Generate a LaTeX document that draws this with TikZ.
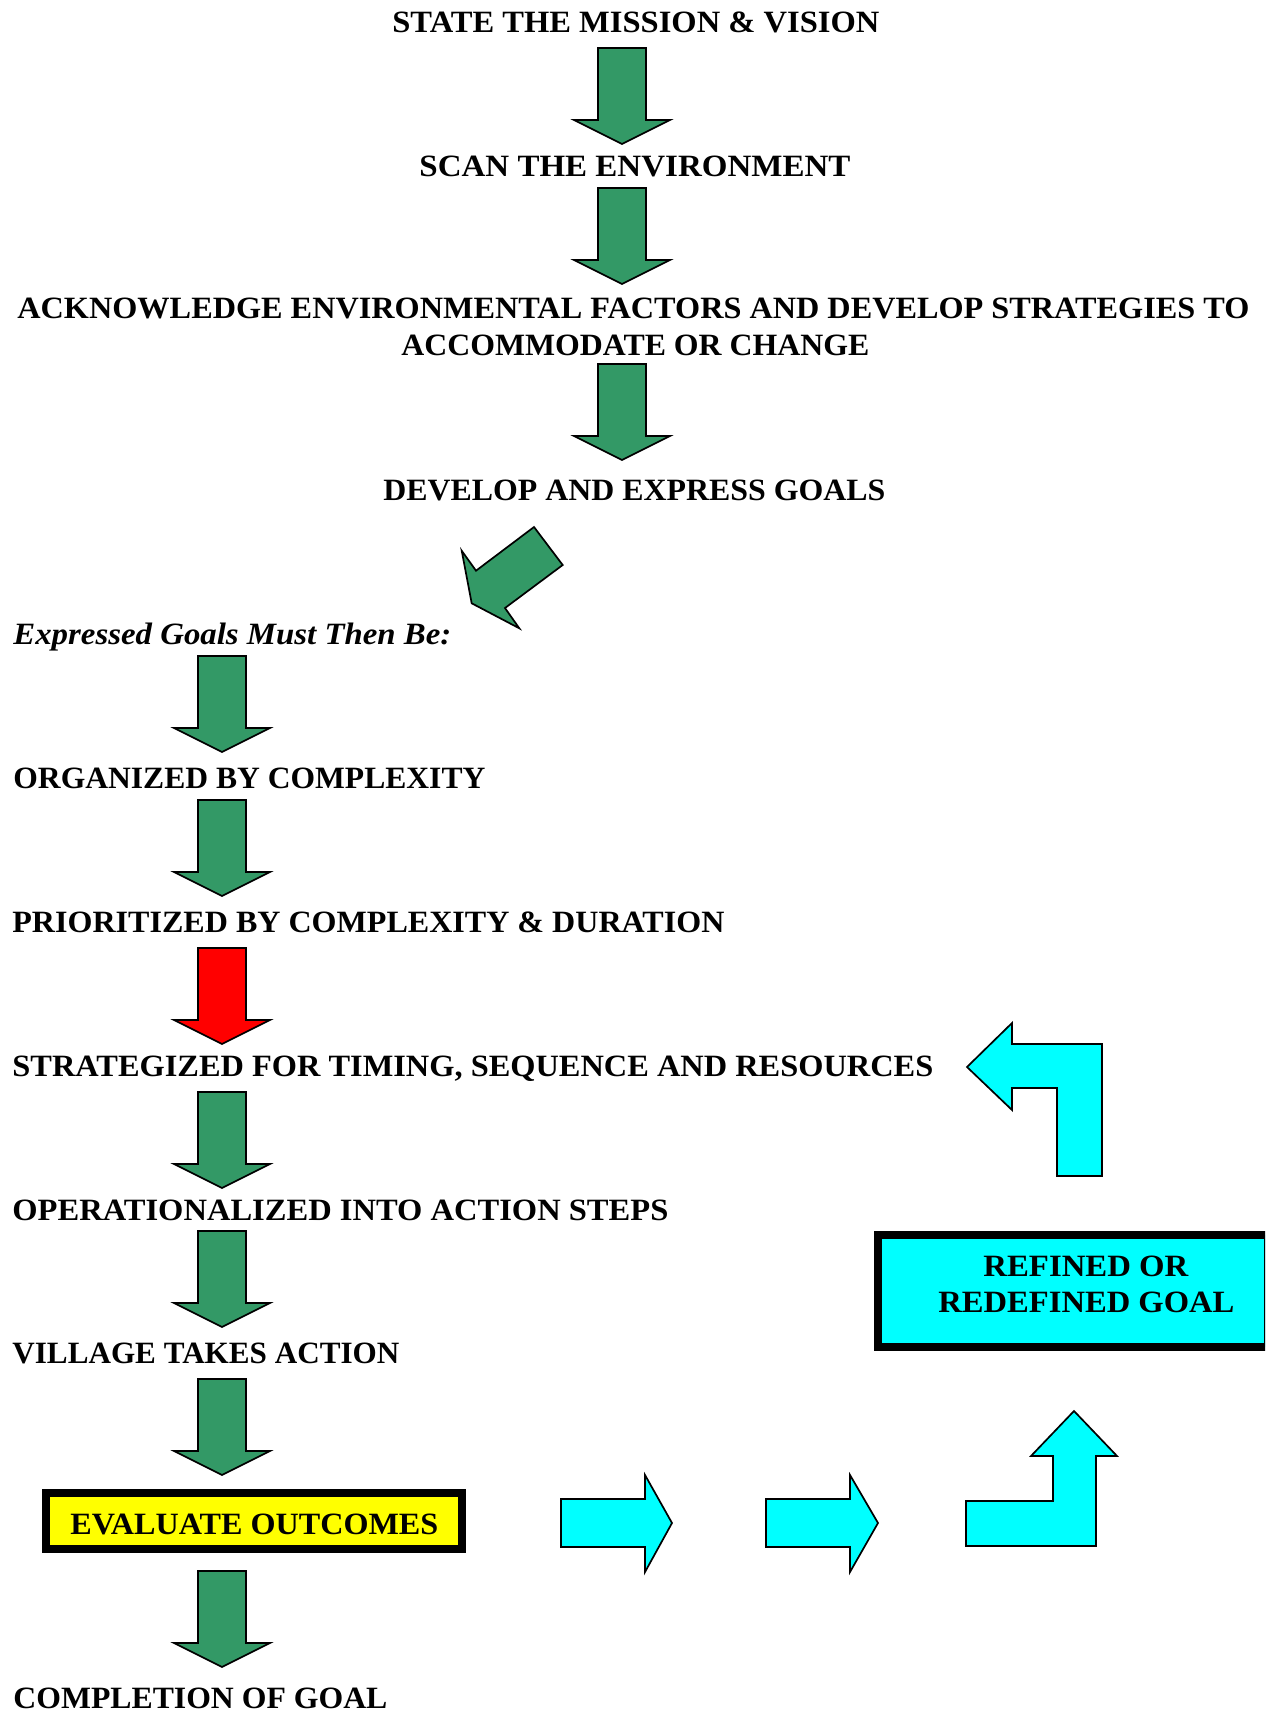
\documentclass[tikz,border=0pt]{standalone}
\usepackage{fontspec}
\setmainfont{Liberation Serif}
\usepackage{graphicx}
\newlength\pxu
\setlength\pxu{0.5pt}
\newcommand\fitt[2]{\resizebox{#1\pxu}{\height}{#2}}
\definecolor{sgreen}{RGB}{51,153,102}
\definecolor{cyanfill}{RGB}{0,255,255}
\definecolor{redfill}{RGB}{255,0,0}
\definecolor{yelfill}{RGB}{255,255,0}
\tikzset{
  lbl/.style={anchor=base west,inner sep=0pt,font=\fontsize{15.5}{18}\selectfont\bfseries},
  blk/.style={draw=black,line width=0.85pt,line join=miter},
  thickbox/.style={draw=black,line width=4pt,inner sep=0pt}
}
% down block arrow: #1 centre x, #2 top y, #3 fill colour
\newcommand\downarr[3]{%
  \draw[blk,fill=#3] (#1-24,#2) -- (#1+24,#2) -- (#1+24,#2+72) -- (#1+48,#2+72)
    -- (#1,#2+96) -- (#1-48,#2+72) -- (#1-24,#2+72) -- cycle;}
\begin{document}
\begin{tikzpicture}[x=0.5pt,y=-0.5pt]
\useasboundingbox (0,0) rectangle (1265,1709);
\clip (0,0) rectangle (1265,1709);

% texts
\node[lbl] (t1) at (392,32) {\fitt{487}{STATE THE MISSION \& VISION}};
\node[lbl] (t2) at (419,176) {\fitt{431}{SCAN THE ENVIRONMENT}};
\node[lbl] (t3a) at (17,318) {\fitt{1232}{ACKNOWLEDGE ENVIRONMENTAL FACTORS AND DEVELOP STRATEGIES TO}};
\node[lbl] (t3b) at (401,355) {\fitt{468}{ACCOMMODATE OR CHANGE}};
\node[lbl] (t4) at (383,500) {\fitt{502}{DEVELOP AND EXPRESS GOALS}};
\node[lbl,font=\fontsize{15.5}{18}\selectfont\bfseries\itshape] (t5) at (13,644) {\fitt{438}{Expressed Goals Must Then Be:}};
\node[lbl] (t6) at (13,788) {\fitt{472}{ORGANIZED BY COMPLEXITY}};
\node[lbl] (t7) at (12,932) {\fitt{712}{PRIORITIZED BY COMPLEXITY \& DURATION}};
\node[lbl] (t8) at (12,1076) {\fitt{921}{STRATEGIZED FOR TIMING, SEQUENCE AND RESOURCES}};
\node[lbl] (t9) at (12,1220) {\fitt{656}{OPERATIONALIZED INTO ACTION STEPS}};
\node[lbl] (t10) at (12,1363) {\fitt{387}{VILLAGE TAKES ACTION}};
\node[lbl] (t12) at (13,1708) {\fitt{374}{COMPLETION OF GOAL}};

% evaluate box
\node[thickbox,fill=yelfill,minimum width=208pt,minimum height=28pt] (eval) at (254,1521) {};
\node[lbl] (t11) at (70,1534) {\fitt{368}{EVALUATE OUTCOMES}};

% refined box
\node[thickbox,fill=cyanfill,minimum width=195pt,minimum height=56pt] (refbox) at (1073,1291) {};
\node[lbl] (r1) at (983,1276) {\fitt{205}{REFINED OR}};
\node[lbl] (r2) at (938,1312) {\fitt{296}{REDEFINED GOAL}};

% green down arrows
\downarr{622}{48}{sgreen}
\downarr{622}{188}{sgreen}
\downarr{622}{364}{sgreen}
\downarr{222}{656}{sgreen}
\downarr{222}{800}{sgreen}
\downarr{222}{948}{redfill}
\downarr{222}{1092}{sgreen}
\downarr{222}{1231}{sgreen}
\downarr{222}{1379}{sgreen}
\downarr{222}{1571}{sgreen}

% diagonal arrow
\draw[blk,fill=sgreen] (534,527) -- (562.7,565) -- (505,608) -- (519.3,628.3)
  -- (471.7,603.3) -- (461.7,550.7) -- (476,570.7) -- cycle;

% cyan arrows
\draw[blk,fill=cyanfill] (561,1499) -- (645,1499) -- (645,1475) -- (672,1523)
  -- (645,1572) -- (645,1547) -- (561,1547) -- cycle;
\draw[blk,fill=cyanfill] (766,1499) -- (850,1499) -- (850,1475) -- (878,1523)
  -- (850,1572) -- (850,1547) -- (766,1547) -- cycle;
\draw[blk,fill=cyanfill] (966,1501) -- (1053,1501) -- (1053,1456) -- (1031,1456)
  -- (1074,1411) -- (1117,1456) -- (1096,1456) -- (1096,1546) -- (966,1546) -- cycle;
\draw[blk,fill=cyanfill] (967,1067) -- (1012,1023) -- (1012,1044) -- (1102,1044)
  -- (1102,1176) -- (1057,1176) -- (1057,1088) -- (1012,1088) -- (1012,1110) -- cycle;
\end{tikzpicture}
\end{document}
